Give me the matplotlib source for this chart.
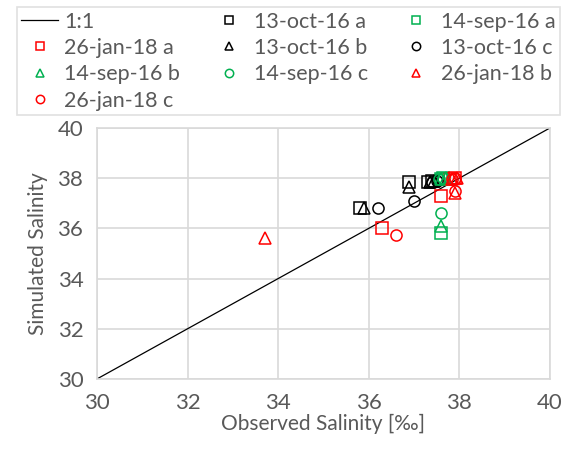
import matplotlib
matplotlib.use("Agg")
import matplotlib.pyplot as plt

plt.rcParams['font.family'] = ['Lato', 'DejaVu Sans']

# 1:1 reference line
one_to_one = [30, 40]

# observed / simulated salinity per series
oct_a_obs = [35.8, 36.9, 37.3, 37.4]
oct_a_sim = [36.8, 37.85, 37.85, 37.9]
oct_b_obs = [35.9, 36.9, 37.35, 37.45]
oct_b_sim = [36.8, 37.65, 37.85, 37.9]
oct_c_obs = [36.2, 37.0, 37.4, 37.5]
oct_c_sim = [36.8, 37.1, 37.85, 37.9]

sep_a_obs = [37.6, 37.6, 37.65]
sep_a_sim = [35.8, 37.95, 38.0]
sep_b_obs = [37.6, 37.6, 37.7]
sep_b_sim = [36.1, 37.95, 38.0]
sep_c_obs = [37.6, 37.55, 37.65]
sep_c_sim = [36.6, 37.95, 38.0]

jan_a_obs = [36.3, 37.6, 37.8, 37.9]
jan_a_sim = [36.0, 37.3, 37.95, 38.0]
jan_b_obs = [33.7, 37.9, 37.85, 37.95]
jan_b_sim = [35.6, 37.4, 37.95, 38.0]
jan_c_obs = [36.6, 37.9, 37.85, 37.9]
jan_c_sim = [35.75, 37.5, 37.95, 38.0]

black = "#000000"
green = "#00B050"
red = "#FF0000"
txt = "#595959"
grid_c = "#D9D9D9"

fig = plt.figure(figsize=(5.65, 4.51), dpi=100)
ax = fig.add_axes([0.172, 0.160, 0.801, 0.556])

line, = ax.plot(one_to_one, one_to_one, color="black", lw=0.9, label="1:1")

def sc(x, y, m, c, lab):
    h, = ax.plot(x, y, linestyle="none", marker=m, markersize=8,
                 markerfacecolor="none", markeredgecolor=c, markeredgewidth=1.1,
                 label=lab)
    return h

h_oa = sc(oct_a_obs, oct_a_sim, "s", black, "13-oct-16 a")
h_sa = sc(sep_a_obs, sep_a_sim, "s", green, "14-sep-16 a")
h_ja = sc(jan_a_obs, jan_a_sim, "s", red, "26-jan-18 a")
h_ob = sc(oct_b_obs, oct_b_sim, "^", black, "13-oct-16 b")
h_oc = sc(oct_c_obs, oct_c_sim, "o", black, "13-oct-16 c")
h_sb = sc(sep_b_obs, sep_b_sim, "^", green, "14-sep-16 b")
h_sc = sc(sep_c_obs, sep_c_sim, "o", green, "14-sep-16 c")
h_jb = sc(jan_b_obs, jan_b_sim, "^", red, "26-jan-18 b")
h_jc = sc(jan_c_obs, jan_c_sim, "o", red, "26-jan-18 c")

ax.set_xlim(30, 40)
ax.set_ylim(30, 40)
ax.set_xticks([30, 32, 34, 36, 38, 40])
ax.set_yticks([30, 32, 34, 36, 38, 40])
ax.grid(True, color=grid_c, lw=1.2)
ax.set_axisbelow(True)
for s in ax.spines.values():
    s.set_color(grid_c)
    s.set_linewidth(1.2)
ax.tick_params(length=0, labelsize=16, labelcolor=txt, pad=10)
ax.set_xlabel("Observed Salinity [‰]", fontsize=15, color=txt, labelpad=1)
ax.set_ylabel("Simulated Salinity", fontsize=15, color=txt, labelpad=7)

# reorder so the legend reads row by row
handles = [line, h_ja, h_sb, h_jc, h_oa, h_ob, h_sc, h_sa, h_oc, h_jb]
leg = fig.legend(handles=handles, labels=[h.get_label() for h in handles],
                 ncol=3, loc="upper left", bbox_to_anchor=(0.030, 0.758, 0.961, 0.226),
                 mode="expand", fontsize=15.5, frameon=True, fancybox=False,
                 edgecolor=grid_c, handlelength=1.7, handletextpad=0.3,
                 borderaxespad=0, labelspacing=0.3, borderpad=0.2, markerscale=0.75)
leg.get_frame().set_linewidth(1.2)
for t in leg.get_texts():
    t.set_color(txt)

fig.savefig("out.png", dpi=100)
